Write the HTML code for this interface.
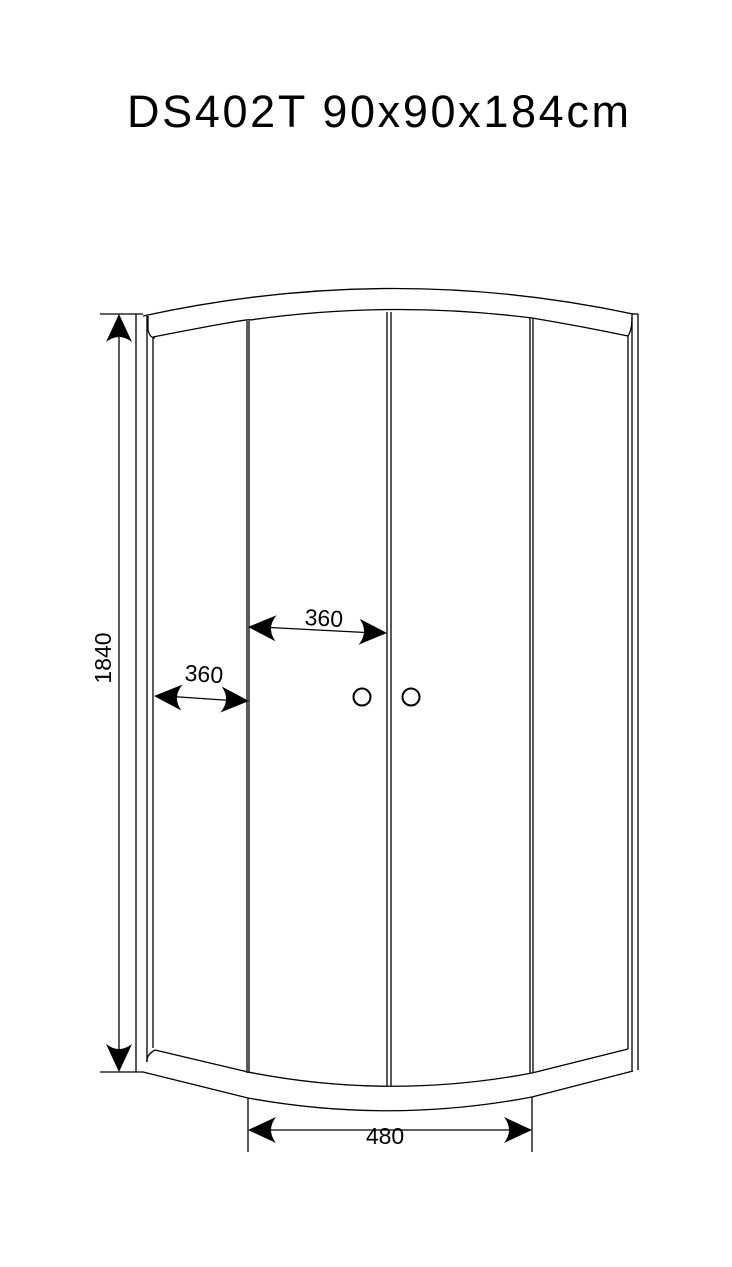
<!DOCTYPE html>
<html><head><meta charset="utf-8"><style>
html,body{margin:0;padding:0;background:#fff;}
svg{display:block;}
text{font-family:"Liberation Sans",sans-serif;fill:#000;}
</style></head><body>
<svg width="732" height="1267" viewBox="0 0 732 1267" xmlns="http://www.w3.org/2000/svg">
<defs>
<path id="ah" d="M0,0 L-28,-13 Q-18,0 -28,13 Z" fill="#000"/>
</defs>
<text x="127" y="127" font-size="45" textLength="502" lengthAdjust="spacing">DS402T 90x90x184cm</text>
<g fill="none" stroke="#000" stroke-width="1.3">
<path d="M143,316 Q390,262 633,314"/>
<path d="M153,337 Q250,318 250,320 Q390,300 532,318 Q580,326 628,336"/>
<path d="M148,316 L148,330 Q150,338 155,338"/>
<path d="M628,336 Q632,330 632,318"/>
<line x1="136" y1="314" x2="136" y2="1072"/>
<line x1="147" y1="316" x2="147" y2="1062"/>
<line x1="153" y1="337" x2="153" y2="1048"/>
<line x1="628" y1="336" x2="628" y2="1049"/>
<line x1="632" y1="314" x2="632" y2="1071"/>
<line x1="638" y1="314" x2="638" y2="1070"/>
<line x1="632" y1="314" x2="638" y2="314"/>
<line x1="247" y1="321" x2="247" y2="1073"/>
<line x1="249" y1="321" x2="249" y2="1073"/>
<line x1="387" y1="312" x2="387" y2="1086"/>
<line x1="391" y1="312" x2="391" y2="1086"/>
<line x1="530" y1="318" x2="530" y2="1073"/>
<line x1="533" y1="318" x2="533" y2="1073"/>
<path d="M155,1050 L248,1072 Q390,1100 532,1073 L628,1049"/>
<path d="M155,1050 Q146,1055 147,1062"/>
<path d="M136,1072 L143,1072 L248,1098 Q390,1124 532,1097 L633,1071"/>
<line x1="100" y1="314" x2="143" y2="314"/>
<line x1="100" y1="1072" x2="136" y2="1072"/>
<line x1="119" y1="330" x2="119" y2="1056"/>
<line x1="248" y1="1098" x2="248" y2="1152"/>
<line x1="532" y1="1097" x2="532" y2="1152"/>
<line x1="260" y1="1130" x2="520" y2="1130"/>
<line x1="260" y1="627" x2="375" y2="633"/>
<line x1="165" y1="696" x2="238" y2="701"/>
<circle cx="362" cy="697" r="8.5" stroke-width="2"/>
<circle cx="411" cy="697" r="8.5" stroke-width="2"/>
</g>
<use href="#ah" transform="translate(119,314) rotate(-90)"/>
<use href="#ah" transform="translate(119,1072) rotate(90)"/>
<use href="#ah" transform="translate(248,1130) rotate(180)"/>
<use href="#ah" transform="translate(532,1130)"/>
<use href="#ah" transform="translate(248,627) rotate(182.5)"/>
<use href="#ah" transform="translate(387,633) rotate(2.5)"/>
<use href="#ah" transform="translate(154,696) rotate(183)"/>
<use href="#ah" transform="translate(249,701) rotate(3)"/>
<text x="385" y="1144" font-size="23" text-anchor="middle">480</text>
<text x="324" y="626" font-size="23" text-anchor="middle" transform="rotate(3 324 617)">360</text>
<text x="204" y="682" font-size="23" text-anchor="middle" transform="rotate(4 204 674)">360</text>
<text x="0" y="0" font-size="23" text-anchor="middle" transform="translate(111,658) rotate(-90)">1840</text>
</svg>
</body></html>
